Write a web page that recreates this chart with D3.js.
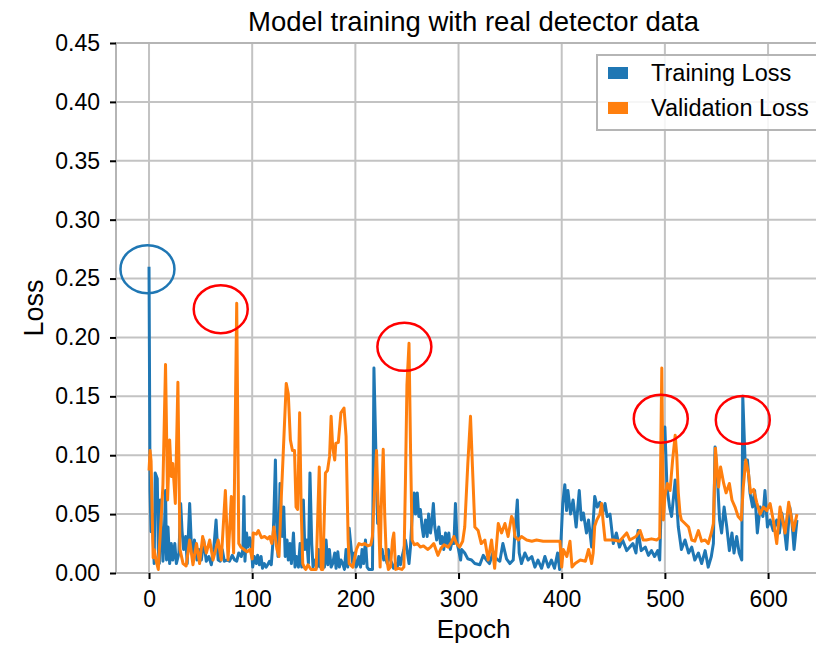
<!DOCTYPE html>
<html>
<head>
<meta charset="utf-8">
<script src="https://cdn.jsdelivr.net/npm/d3@7/dist/d3.min.js"></script>
<style>
  html, body { margin: 0; padding: 0; background: #fff; }
  svg { display: block; font-family: "Liberation Sans", Arial, sans-serif; }
</style>
</head>
<body>
<svg id="chart" width="816" height="645"></svg>
<script>
// ---- data ----
const trainEpochs = [0,1,2,3,5,6,8,9,10,11,12,13.5,14.5,16,17,18.4,20,21.6,23,25,26.5,29,30.7,32,33.5,35.5,37,39.4,41,42.6,44,46.5,48.4,50.7,53,55.5,58,60.4,62.7,65,67,69,71,73,75.6,78,80.7,83,85,87,89.5,91,92,93,94.5,96,97.6,99,100.5,102,104,105.3,107,108.6,110,111.8,113.5,115,116.8,118.5,120,121,122.5,123.5,125,126.3,127,129,130.6,132,133.8,135,136.7,138,140,141.5,143,144.8,146.4,148,149.6,151,152.9,154.5,156,157.7,159,161,163,164.5,166,168.4,170,171.6,173.2,174.8,176.5,178,180,181.3,183,184.5,186,187.8,189.4,191,192.6,194,196,197.5,199,200.7,202.3,203.3,205,206.5,208,209.8,211.4,213,215,216.6,218,220,221.6,223,224.7,226,227.5,229,230.8,232,234,235.6,237,239,240.5,242,243.7,245.3,247,248.5,250,252,253.4,255,257,258.3,260,261.5,263,264.7,266,268,269.6,271,272.8,274,275.6,277,278.8,280.9,282.5,284,285.7,287.4,289,290.6,292,294,295.5,297,298.7,300,302,303,306,309,312.6,315.8,320.6,324,327,330,333.6,336.8,340,343,346.5,349.8,353,354.6,357,358.8,361,364.3,367.5,371,374,377,380.5,383.7,387,390,393,396,398,401,403,404.7,406,408.6,411,414,417,419,421,424,426,429,432,434.5,437,439.7,442,444,446.8,450,453,456,459,463,466,469,472,474,477,481,484,487,490,493,495,498,500,502,504.5,506.5,510,513,516,519.5,523,526,529,532.5,535.6,539,542,545,547,548.6,551,553,555,557.4,560,562.5,565,567,569.6,572,574.5,575.5,577.7,580,582.5,585,587,589.6,592.3,595,597,599.4,602,605,608.4,611,613.3,615.6,618,621,623,625.2,628];
const trainLoss = [0.26,0.07,0.035,0.05,0.008,0.085,0.08,0.02,0.008,0.062,0.04,0.01,0.025,0.07,0.011,0.039,0.008,0.025,0.011,0.025,0.008,0.017,0.059,0.036,0.02,0.031,0.008,0.059,0.025,0.014,0.028,0.011,0.02,0.011,0.028,0.01,0.014,0.007,0.02,0.045,0.011,0.01,0.02,0.01,0.011,0.01,0.015,0.011,0.01,0.017,0.014,0.02,0.065,0.01,0.034,0.022,0.03,0.025,0.005,0.014,0.008,0.015,0.007,0.014,0.004,0.008,0.005,0.007,0.01,0.007,0.025,0.048,0.096,0.048,0.014,0.048,0.076,0.031,0.056,0.014,0.028,0.011,0.025,0.008,0.034,0.005,0.014,0.005,0.025,0.005,0.062,0.02,0.028,0.008,0.085,0.025,0.005,0.011,0.005,0.02,0.005,0.008,0.005,0.028,0.007,0.02,0.005,0.008,0.017,0.004,0.018,0.005,0.011,0.008,0.003,0.02,0.005,0.038,0.02,0.008,0.017,0.005,0.008,0.014,0.005,0.02,0.008,0.028,0.005,0.003,0.003,0.003,0.174,0.099,0.042,0.056,0.017,0.02,0.011,0.014,0.008,0.02,0.011,0.008,0.004,0.008,0.004,0.014,0.007,0.014,0.02,0.028,0.02,0.008,0.022,0.048,0.068,0.05,0.068,0.048,0.054,0.039,0.031,0.045,0.031,0.05,0.034,0.042,0.059,0.039,0.028,0.039,0.025,0.031,0.02,0.034,0.025,0.034,0.02,0.028,0.025,0.059,0.025,0.02,0.011,0.02,0.017,0.012,0.011,0.008,0.007,0.015,0.011,0.008,0.018,0.012,0.01,0.025,0.012,0.008,0.011,0.034,0.062,0.017,0.008,0.017,0.011,0.014,0.005,0.011,0.004,0.014,0.005,0.011,0.004,0.017,0.003,0.059,0.075,0.053,0.07,0.05,0.062,0.039,0.07,0.045,0.051,0.034,0.045,0.022,0.065,0.056,0.06,0.051,0.059,0.048,0.05,0.025,0.034,0.022,0.028,0.019,0.022,0.025,0.017,0.036,0.019,0.022,0.015,0.019,0.014,0.019,0.011,0.11,0.124,0.073,0.056,0.048,0.079,0.039,0.02,0.028,0.017,0.022,0.011,0.017,0.008,0.019,0.005,0.014,0.025,0.107,0.079,0.045,0.034,0.056,0.039,0.019,0.034,0.017,0.031,0.017,0.011,0.15,0.096,0.096,0.068,0.056,0.07,0.034,0.056,0.048,0.07,0.039,0.045,0.036,0.045,0.034,0.051,0.039,0.02,0.056,0.045,0.02,0.045];

const valEpochs = [0,1,2,4,5,7,9,10,12,13.5,16,18,20,21.6,23,25.5,28,30,33,36,39.4,42.6,46,49,52,55.6,58.8,62,67,70,74,76.6,79.8,82,85,87,89,92,95,98,100,101,104,106,109,112,115,117,119,121,124,126,128,130,133,135,137,139,141,142.5,144,146,147.5,149,151,152,154,157,160,162,165,167,168.5,171,173,175,176.5,178,180,181,183.5,186,189,191,193,194,197.5,201,203.5,206,209,212,215,216.5,219,220.5,222,224,225,227,228.5,230,232,234,236,237.3,239,242,245,247,248.5,250,252,253.5,255,257,260,263,266,270,273,276,280,283,286,290,293,295.5,298,301,304,306,309,311.6,313.5,315.8,319,322,325.5,328.7,332,335,338.5,341.7,345,348,351.4,353,354.6,358,361,366,371,375.6,382,388.5,395,398.3,400,401.5,405,408,410,413,418,423,426,429,430.5,432,434,437,438.7,440,442,445,450,456,463,466,472,476,479,482,487,492,495,497,498.5,500,502.4,505,507.5,510,511.5,513,514.7,516,519.5,523,526,529,532.5,535.6,539,542,545,547,549,552,554,557,559.3,562.5,565,568,571,574,576,578.4,581,583,586,589,592.3,595.4,598.7,602,605,608.4,611.6,614,616.5,620,622,624.6,628];
const valLoss = [0.087,0.104,0.095,0.013,0.02,0.01,0.003,0.02,0.05,0.075,0.177,0.062,0.113,0.082,0.093,0.059,0.162,0.02,0.008,0.006,0.028,0.007,0.025,0.008,0.031,0.017,0.028,0.011,0.028,0.011,0.07,0.011,0.065,0.017,0.229,0.025,0.022,0.02,0.018,0.02,0.012,0.034,0.033,0.036,0.03,0.031,0.029,0.031,0.025,0.039,0.02,0.014,0.06,0.1,0.161,0.152,0.113,0.104,0.104,0.056,0.054,0.136,0.054,0.008,0.004,0.003,0.007,0.003,0.003,0.003,0.09,0.003,0.003,0.085,0.087,0.099,0.133,0.107,0.096,0.11,0.111,0.136,0.14,0.116,0.028,0.008,0.005,0.02,0.025,0.024,0.025,0.023,0.024,0.031,0.076,0.104,0.059,0.005,0.054,0.105,0.048,0.014,0.003,0.005,0.028,0.034,0.003,0.004,0.003,0.005,0.076,0.16,0.195,0.104,0.028,0.024,0.025,0.022,0.023,0.02,0.022,0.025,0.015,0.021,0.024,0.022,0.026,0.031,0.025,0.022,0.027,0.039,0.093,0.133,0.09,0.039,0.036,0.025,0.028,0.011,0.028,0.004,0.042,0.034,0.042,0.031,0.048,0.045,0.031,0.028,0.031,0.028,0.027,0.028,0.027,0.027,0.027,0.027,0.005,0.02,0.014,0.027,0.005,0.008,0.011,0.01,0.02,0.008,0.017,0.04,0.045,0.05,0.059,0.045,0.028,0.028,0.028,0.027,0.034,0.028,0.031,0.036,0.028,0.028,0.029,0.028,0.03,0.174,0.045,0.065,0.076,0.07,0.096,0.117,0.1,0.068,0.05,0.045,0.042,0.039,0.028,0.027,0.036,0.027,0.028,0.025,0.034,0.042,0.106,0.073,0.09,0.076,0.068,0.076,0.062,0.056,0.048,0.045,0.073,0.096,0.085,0.068,0.071,0.06,0.05,0.056,0.053,0.059,0.045,0.025,0.056,0.045,0.034,0.06,0.05,0.036,0.05];

const xTicks = [0, 100, 200, 300, 400, 500, 600];
const yTicks = [0.00, 0.05, 0.10, 0.15, 0.20, 0.25, 0.30, 0.35, 0.40, 0.45];
const seriesNames = ["Training Loss", "Validation Loss"];
const seriesColors = ["#1f77b4", "#ff7f0e"];
// annotation ellipses: [epoch, loss, colour]
const markEpochs = [-1.5, 69.5, 247.5, 496, 575.5];
const markLoss = [0.258, 0.224, 0.192, 0.131, 0.130];
const markColors = ["#1f77b4", "#ff0000", "#ff0000", "#ff0000", "#ff0000"];

// ---- layout ----
const svg = d3.select("#chart");
const L = 116, R = 831, T = 43, B = 573;
const x = d3.scaleLinear().domain([-32, 661]).range([L, R]);
const y = d3.scaleLinear().domain([0, 0.45]).range([B, T]);
const gridColor = "#c3c3c3";

svg.append("defs").append("clipPath").attr("id", "clip")
  .append("rect").attr("x", L).attr("y", T).attr("width", R - L).attr("height", B - T);

// grid
svg.append("g").selectAll("line").data(xTicks).join("line")
  .attr("x1", d => x(d)).attr("x2", d => x(d)).attr("y1", T).attr("y2", B)
  .attr("stroke", gridColor).attr("stroke-width", 2);
svg.append("g").selectAll("line").data(yTicks).join("line")
  .attr("x1", L).attr("x2", R).attr("y1", d => y(d)).attr("y2", d => y(d))
  .attr("stroke", gridColor).attr("stroke-width", 2);

// spines
svg.append("rect").attr("x", L).attr("y", T).attr("width", R - L).attr("height", B - T)
  .attr("fill", "none").attr("stroke", "#b5b5b5").attr("stroke-width", 2);

// lines
const lineGen = (xs) => d3.line().x((d, i) => x(xs[i])).y(d => y(d));
const plot = svg.append("g").attr("clip-path", "url(#clip)");
plot.append("path").datum(trainLoss).attr("d", lineGen(trainEpochs))
  .attr("fill", "none").attr("stroke", seriesColors[0]).attr("stroke-width", 3)
  .attr("stroke-linejoin", "round");
plot.append("path").datum(valLoss).attr("d", lineGen(valEpochs))
  .attr("fill", "none").attr("stroke", seriesColors[1]).attr("stroke-width", 3)
  .attr("stroke-linejoin", "round");

// axes
const fontSize = 23;
const xAxis = svg.append("g").attr("transform", `translate(0,${B})`)
  .call(d3.axisBottom(x).tickValues(xTicks).tickSize(6).tickPadding(12).tickFormat(d3.format("d")));
const yAxis = svg.append("g").attr("transform", `translate(${L},0)`)
  .call(d3.axisLeft(y).tickValues(yTicks).tickSize(6).tickPadding(10).tickFormat(d3.format(".2f")));
[xAxis, yAxis].forEach(g => {
  g.select(".domain").remove();
  g.selectAll(".tick line").attr("stroke", "#000").attr("stroke-width", 2);
  g.selectAll(".tick text").attr("fill", "#000").style("font-size", fontSize + "px")
    .style("font-family", '"Liberation Sans", Arial, sans-serif');
});

// axis labels & title
svg.append("text").attr("x", (L + R) / 2).attr("y", 638).attr("text-anchor", "middle")
  .style("font-size", "26px").text("Epoch");
svg.append("text").attr("transform", `translate(43,${(T + B) / 2}) rotate(-90)`)
  .attr("text-anchor", "middle").style("font-size", "27px").text("Loss");
svg.append("text").attr("x", (L + R) / 2).attr("y", 31).attr("text-anchor", "middle")
  .style("font-size", "27.5px").text("Model training with real detector data");

// annotation ellipses
svg.append("g").selectAll("ellipse").data(markEpochs).join("ellipse")
  .attr("cx", d => x(d)).attr("cy", (d, i) => y(markLoss[i]))
  .attr("rx", 27).attr("ry", 24)
  .attr("fill", "none").attr("stroke", (d, i) => markColors[i]).attr("stroke-width", 2.5);

// legend
const lg = svg.append("g");
lg.append("rect").attr("x", 597).attr("y", 55).attr("width", 240).attr("height", 75)
  .attr("fill", "rgba(255,255,255,0.85)").attr("stroke", "#b5b5b5").attr("stroke-width", 2);
seriesNames.forEach((n, i) => {
  const yy = 73 + i * 35;
  lg.append("rect").attr("x", 608).attr("y", yy - 6).attr("width", 20).attr("height", 12)
    .attr("fill", seriesColors[i]);
  lg.append("text").attr("x", 651).attr("y", yy + 8).style("font-size", "23.5px").text(n);
});
</script>
</body>
</html>
